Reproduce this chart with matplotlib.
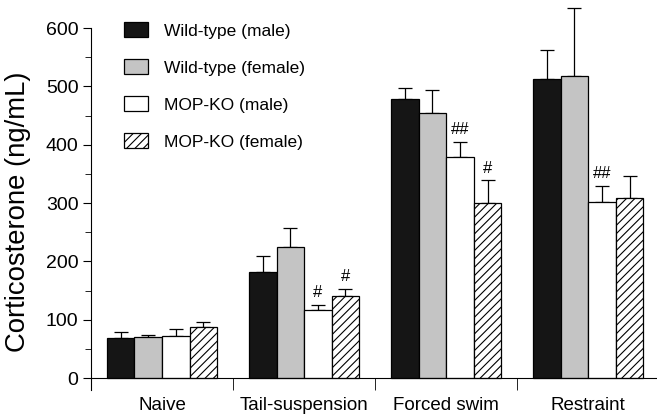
import numpy as np
import matplotlib
matplotlib.use('Agg')
import matplotlib.pyplot as plt

plt.rcParams['font.family'] = ['Liberation Sans', 'DejaVu Sans']
plt.rcParams['hatch.linewidth'] = 0.8

# valores (ng/mL)
groups = ['Naive', 'Tail-suspension', 'Forced swim', 'Restraint']
series = ['Wild-type (male)', 'Wild-type (female)', 'MOP-KO (male)', 'MOP-KO (female)']
wt_male = [69, 182, 478, 512]
wt_male_err = [10, 28, 19, 50]
wt_female = [70, 225, 455, 518]
wt_female_err = [4, 32, 38, 117]
ko_male = [72, 117, 379, 302]
ko_male_err = [12, 8, 26, 28]
ko_female = [88, 141, 300, 309]
ko_female_err = [8, 12, 39, 38]
ko_male_marks = ['', '#', '##', '##']
ko_female_marks = ['', '#', '#', '']

values = [wt_male, wt_female, ko_male, ko_female]
errors = [wt_male_err, wt_female_err, ko_male_err, ko_female_err]
marks = [None, None, ko_male_marks, ko_female_marks]
faces = ['#151515', '#c4c4c4', 'white', 'white']
hatches = [None, None, None, '////']

fig = plt.figure(figsize=(6.57, 4.16), dpi=100)
ax = fig.add_axes([0.1385, 0.0632, 0.865, 0.9255])

x = np.arange(len(groups))
w = 0.194
for i in range(4):
    pos = x + (i - 1.5) * w
    ax.bar(pos, values[i], w, color=faces[i], edgecolor='black', linewidth=0.9,
           hatch=hatches[i], label=series[i], zorder=2)
    ax.errorbar(pos, values[i], yerr=[np.zeros(4), errors[i]], fmt='none',
                ecolor='black', elinewidth=0.9, capsize=5, capthick=0.9, zorder=1)
    if marks[i] is not None:
        for p, v, e, m in zip(pos, values[i], errors[i], marks[i]):
            if m:
                ax.text(p, v + e + 8, m, ha='center', va='bottom', fontsize=12)

ax.set_xlim(-0.5, 3.5)
ax.set_ylim(-20, 640)
ax.spines['top'].set_visible(False)
ax.spines['right'].set_visible(False)
ax.spines['bottom'].set_position(('data', 0))
ax.spines['left'].set_bounds(-20, 600)

ax.set_yticks(np.arange(0, 601, 100))
ax.set_yticks(np.arange(0, 601, 50), minor=True)
ax.tick_params(axis='y', which='major', length=6, pad=3, labelsize=14, direction='out')
ax.tick_params(axis='y', which='minor', length=4, direction='out')

ax.set_xticks(x)
ax.set_xticklabels(groups)
ax.set_xticks([0.5, 1.5, 2.5], minor=True)
ax.tick_params(axis='x', which='major', length=0, pad=14, labelsize=13.5)
ax.tick_params(axis='x', which='minor', length=8.5, direction='out')

ax.set_ylabel('Corticosterone (ng/mL)', fontsize=19.8)
ax.yaxis.set_label_coords(-0.106, 0.462)

ax.legend(loc='upper left', bbox_to_anchor=(0.03, 0.995), frameon=False, fontsize=12.5,
          handlelength=1.4, handleheight=0.95, labelspacing=1.18, handletextpad=0.95)

fig.savefig('out.png', dpi=100)
